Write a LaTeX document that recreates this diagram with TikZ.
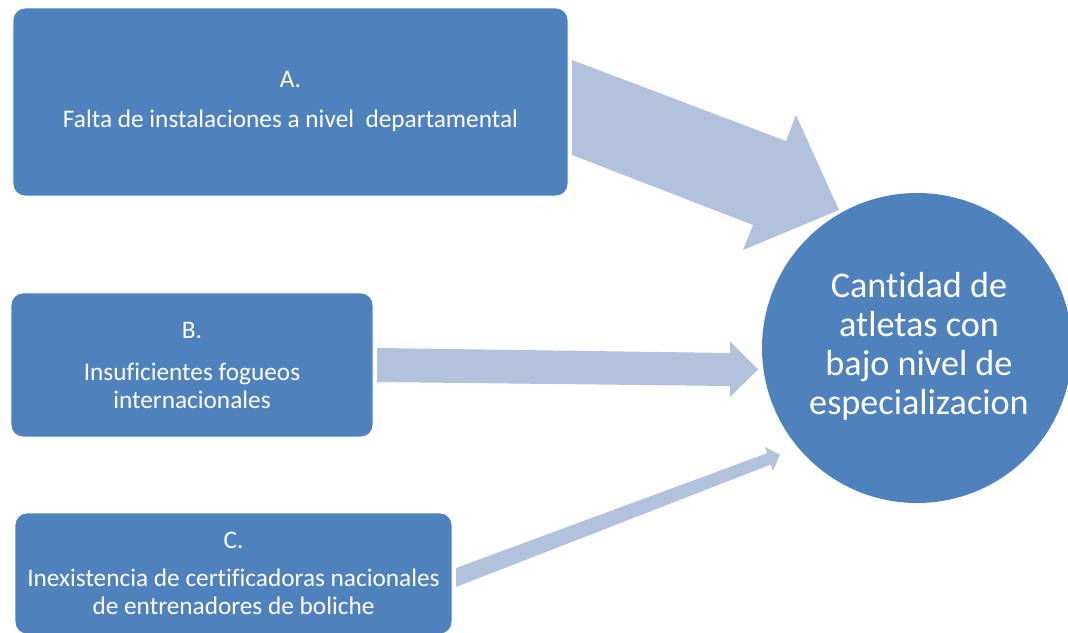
\documentclass[tikz,border=0pt]{standalone}
\usepackage{fontspec}
\setmainfont{Carlito}[Ligatures={NoCommon,NoContextual}, RawFeature={-liga;-clig;-calt;-dlig}]
\definecolor{boxblue}{HTML}{4F81BD}
\definecolor{arrowblue}{HTML}{B3C2DC}
\begin{document}
\begin{tikzpicture}[x=1pt,y=-1pt,
  cause/.style={rectangle, rounded corners=12pt, fill=boxblue, draw=white, line width=0.8pt,
    text=white, align=center, font=\fontsize{25.3}{28}\selectfont, inner sep=0pt},
  effect/.style={circle, fill=boxblue, draw=none, minimum size=310pt, inner sep=0pt},
  effecttext/.style={text=white, align=center, font=\fontsize{36.2}{39}\selectfont, inner sep=0pt},
  blockarrow/.style={fill=arrowblue, draw=none}]
\useasboundingbox (0,0) rectangle (1068,632);
\clip (0,0) rectangle (1068,632);

% boxes
\node[cause, minimum width=555pt, minimum height=188pt] (A) at (290.5,102)
  {A.\\[12pt]Falta de instalaciones a nivel\ \ departamental\rule[-6pt]{0pt}{1pt}};
\node[cause, minimum width=362pt, minimum height=144pt] (B) at (192,365)
  {B.\\[14pt]Insuficientes fogueos\\internacionales};
\node[cause, minimum width=437pt, minimum height=121pt] (C) at (233.5,573.5)
  {C.\\[10pt]Inexistencia de certificadoras nacionales\\de entrenadores de boliche};

% block arrows
\fill[blockarrow] (572,60) -- (786,141) -- (796,115) -- (839,210) -- (743,250) -- (753,225) -- (572,155) -- cycle;
\fill[blockarrow] (377,348) -- (730,353) -- (730,341.5) -- (758,369.5) -- (730,397) -- (730,386) -- (377,382) -- cycle;
\fill[blockarrow] (456,568) -- (767.1,453.2) -- (765,447) -- (780,454.5) -- (773,471) -- (770.8,464.5) -- (456,587) -- cycle;

% effect
\node[effect] (E) at (917,348) {};
\node[effecttext] (Et) at (919,346.5)
  {Cantidad de\\atletas con\\bajo nivel de\\especializacion};
\end{tikzpicture}
\end{document}
